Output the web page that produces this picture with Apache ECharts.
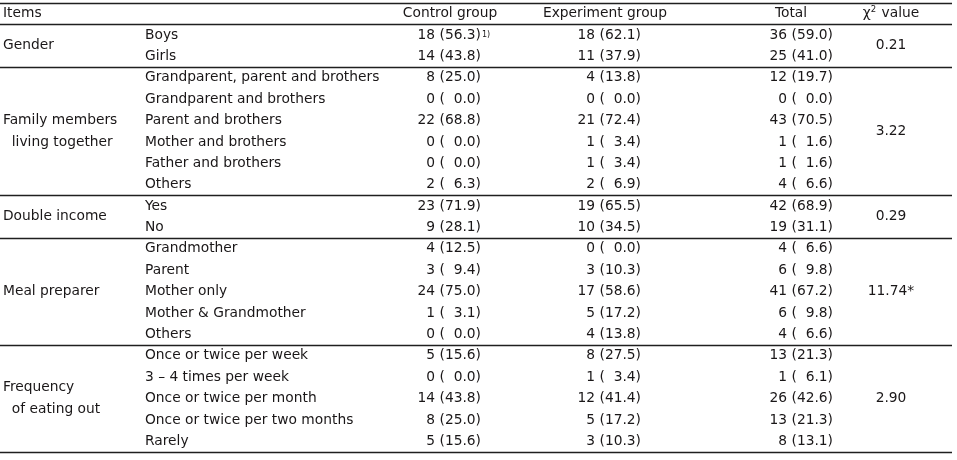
<!DOCTYPE html>
<html>
<head>
<meta charset="utf-8">
<script src="https://cdn.jsdelivr.net/npm/echarts@6/dist/echarts.min.js"></script>
<style>
html,body{margin:0;padding:0;background:#fff;}
#chart{width:957px;height:460px;}
</style>
</head>
<body>
<div id="chart"></div>
<script>
// ---- data ----
const headers = ['Items', 'Control group', 'Experiment group', 'Total', 'χ2 value'];
const groupNames = ['Gender', 'Family members\n  living together', 'Double income', 'Meal preparer', 'Frequency\n  of eating out'];
const groupSizes = [2, 6, 2, 5, 5];
const items = [
  'Boys', 'Girls',
  'Grandparent, parent and brothers', 'Grandparent and brothers', 'Parent and brothers',
  'Mother and brothers', 'Father and brothers', 'Others',
  'Yes', 'No',
  'Grandmother', 'Parent', 'Mother only', 'Mother & Grandmother', 'Others',
  'Once or twice per week', '3 – 4 times per week', 'Once or twice per month',
  'Once or twice per two months', 'Rarely'
];
const controlN   = [18, 14, 8, 0, 22, 0, 0, 2, 23, 9, 4, 3, 24, 1, 0, 5, 0, 14, 8, 5];
const controlPct = [56.3, 43.8, 25.0, 0.0, 68.8, 0.0, 0.0, 6.3, 71.9, 28.1, 12.5, 9.4, 75.0, 3.1, 0.0, 15.6, 0.0, 43.8, 25.0, 15.6];
const expN       = [18, 11, 4, 0, 21, 1, 1, 2, 19, 10, 0, 3, 17, 5, 4, 8, 1, 12, 5, 3];
const expPct     = [62.1, 37.9, 13.8, 0.0, 72.4, 3.4, 3.4, 6.9, 65.5, 34.5, 0.0, 10.3, 58.6, 17.2, 13.8, 27.5, 3.4, 41.4, 17.2, 10.3];
const totalN     = [36, 25, 12, 0, 43, 1, 1, 4, 42, 19, 4, 6, 41, 6, 4, 13, 1, 26, 13, 8];
const totalPct   = [59.0, 41.0, 19.7, 0.0, 70.5, 1.6, 1.6, 6.6, 68.9, 31.1, 6.6, 9.8, 67.2, 9.8, 6.6, 21.3, 6.1, 42.6, 21.3, 13.1];
const chiValues  = ['0.21', '3.22', '0.29', '11.74*', '2.90'];
const footnoteRow = 0;
const footnoteMark = '1)';

// ---- layout (not data) ----
const W = 957;
const colGroupX = 3, colItemX = 145;
const ctrlRight = 481, expRight = 641, totRight = 833, chiCenter = 891;
const headCenters = [null, 450, 605, 791, 891];
const lineEnd = 952;
const FONT = 'DejaVu Sans';
const FS = 13.8;
const TXT = '#1a1718';

function fmt(n, p) {
  const ps = p.toFixed(1);
  return n + ' (' + (p < 10 ? '\u2007' : '') + ps + ')';
}

const rowY = i => i + 1.5; // data row i (header occupies 0..1)
const nRows = items.length + 1;

// group starts
const groupStart = [];
let acc = 0;
groupSizes.forEach(s => { groupStart.push(acc); acc += s; });
const groupCenterY = groupSizes.map((s, g) => 1 + groupStart[g] + s / 2);

// separator lines: top, below header, after each group
const sepY = [0, 1].concat(groupSizes.map((s, g) => 1 + groupStart[g] + s));

const baseLabel = { show: true, color: TXT, fontFamily: FONT, fontSize: FS, distance: 0, formatter: '{b}' };

function textSeries(name, data, position, extra) {
  return Object.assign({
    type: 'scatter', name: name, symbolSize: 0, silent: true,
    itemStyle: { opacity: 1 },
    data: data,
    label: Object.assign({}, baseLabel, { position: position })
  }, extra || {});
}

const series = [
  // header left
  textSeries('headItems', [{ name: headers[0], value: [colGroupX, 0.5] }], 'right', {
    markLine: {
      silent: true, symbol: 'none', animation: false,
      label: { show: false },
      lineStyle: { color: '#1f1f1f', type: 'solid', width: 1.4, opacity: 1 },
      data: sepY.map(y => [{ coord: [0, y] }, { coord: [lineEnd, y] }])
    }
  }),
  // header centered
  textSeries('headCols', headers.slice(1).map((h, k) => ({ name: h, value: [headCenters[k + 1], 0.5] })), 'inside', {
    label: Object.assign({}, baseLabel, {
      position: 'inside',
      formatter: p => {
        if (p.name.indexOf('χ2') === 0) return '{n|χ}{s|2}{n|' + p.name.slice(2) + '}';
        return '{n|' + p.name + '}';
      },
      rich: {
        n: { color: TXT, fontFamily: FONT, fontSize: FS },
        s: { color: TXT, fontFamily: FONT, fontSize: 8.5, padding: [0, 1, 8, 0] }
      }
    })
  }),
  textSeries('groups', groupNames.map((g, k) => ({ name: g, value: [colGroupX, groupCenterY[k]] })), 'right', {
    label: Object.assign({}, baseLabel, { position: 'right', lineHeight: 21.4, align: 'left' })
  }),
  textSeries('items', items.map((t, i) => ({ name: t, value: [colItemX, rowY(i)] })), 'right'),
  textSeries('control', controlN.map((n, i) => ({ name: fmt(n, controlPct[i]), value: [ctrlRight, rowY(i)] })), 'left'),
  textSeries('experiment', expN.map((n, i) => ({ name: fmt(n, expPct[i]), value: [expRight, rowY(i)] })), 'left'),
  textSeries('total', totalN.map((n, i) => ({ name: fmt(n, totalPct[i]), value: [totRight, rowY(i)] })), 'left'),
  textSeries('chi', chiValues.map((c, k) => ({ name: c, value: [chiCenter, groupCenterY[k]] })), 'inside'),
  textSeries('footnote', [{ name: footnoteMark, value: [ctrlRight + 1, rowY(footnoteRow)] }], 'right', {
    label: Object.assign({}, baseLabel, { position: 'right', fontSize: 8, padding: [0, 0, 9, 0] })
  })
];

const chart = echarts.init(document.getElementById('chart'), null, { renderer: 'canvas' });
chart.setOption({
  animation: false,
  backgroundColor: '#ffffff',
  grid: { left: 0, right: 0, top: 3, bottom: 8, containLabel: false },
  xAxis: { type: 'value', min: 0, max: W, show: false },
  yAxis: { type: 'value', min: 0, max: nRows, inverse: true, show: false },
  series: series
});
</script>
</body>
</html>
